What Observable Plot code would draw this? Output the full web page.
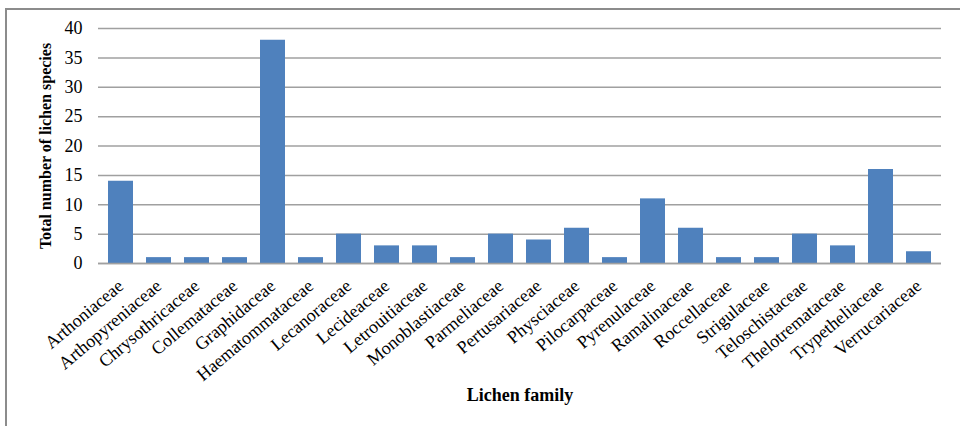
<!DOCTYPE html>
<html><head><meta charset="utf-8">
<script src="https://cdn.jsdelivr.net/npm/d3@7"></script>
<script src="https://cdn.jsdelivr.net/npm/@observablehq/plot@0.6"></script>
<style>
body{margin:0;background:#fff;}
#wrap{position:relative;width:960px;height:426px;overflow:hidden;}
#frame{position:absolute;left:5px;top:8px;width:980px;height:430px;border-top:2px solid #8c8c8c;border-left:2px solid #8c8c8c;}
#chart{position:absolute;left:0;top:0;}
</style></head>
<body><div id="wrap"><div id="frame"></div><div id="chart"></div></div>
<script>
const families = ["Arthoniaceae","Arthopyreniaceae","Chrysothricaceae","Collemataceae","Graphidaceae","Haematommataceae","Lecanoraceae","Lecideaceae","Letrouitiaceae","Monoblastiaceae","Parmeliaceae","Pertusariaceae","Physciaceae","Pilocarpaceae","Pyrenulaceae","Ramalinaceae","Roccellaceae","Strigulaceae","Teloschistaceae","Thelotremataceae","Trypetheliaceae","Verrucariaceae"];
const counts = [14,1,1,1,38,1,5,3,3,1,5,4,6,1,11,6,1,1,5,3,16,2];
const yTicks = [0,5,10,15,20,25,30,35,40];
const xTitle = "Lichen family";
const yTitle = "Total number of lichen species";

const data = families.map((f, i) => ({family: f, count: counts[i]}));
const font = "'Liberation Serif', 'Times New Roman', serif";

const chart = Plot.plot({
  width: 960, height: 426,
  marginLeft: 98, marginRight: 19, marginTop: 28, marginBottom: 163,
  style: {fontFamily: font, fontSize: "18px", background: "transparent", color: "#000"},
  x: {domain: families, paddingInner: 0.35, paddingOuter: 0.175, label: null},
  y: {domain: [0, 40], label: null},
  marks: [
    Plot.gridY(yTicks, {stroke: "#a0a0a0", strokeOpacity: 1, strokeWidth: 1.5}),
    Plot.barY(data, {x: "family", y: "count", fill: "#4F81BD"}),
    Plot.ruleY([0], {stroke: "#a0a0a0", strokeWidth: 1.5}),
    Plot.axisY(yTicks, {tickSize: 0, tickPadding: 16, fontSize: 18, label: null}),
    Plot.axisX({tickSize: 0, tickRotate: -40, tickPadding: 20, fontSize: 18, label: null}),
    Plot.text([xTitle], {frameAnchor: "bottom", dy: 137, fontWeight: "bold", fontSize: 18}),
    Plot.text([yTitle], {frameAnchor: "left", textAnchor: "middle", rotate: -90, dx: -53, fontWeight: "bold", fontSize: 16})
  ]
});
document.getElementById("chart").appendChild(chart);
</script>
</body></html>
